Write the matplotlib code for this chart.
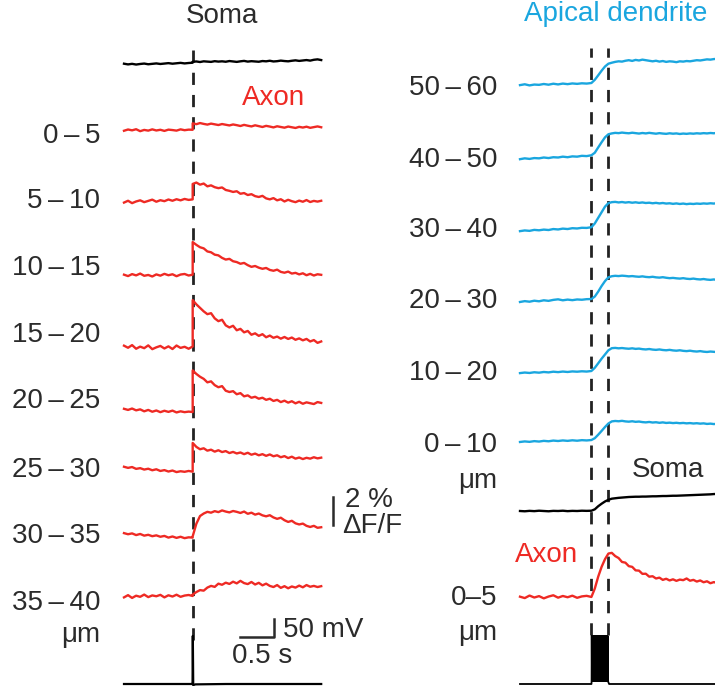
import numpy as np
import matplotlib
matplotlib.use("Agg")
import matplotlib.pyplot as plt

plt.rcParams['font.family'] = ['Liberation Sans', 'DejaVu Sans']

RED = '#ee2a24'
BLUE = '#1aa6df'
INK = '#2b2b2b'

# ---------------- single action potential: soma and axon segments ----------------
# time base (s): pre-stimulus and post-stimulus samples, stimulus at 1.01 s
T_STIM_L = 1.01
t_left = np.concatenate([np.linspace(0.0, T_STIM_L, 18), np.linspace(T_STIM_L, 2.9, 36)])

soma_left = [0.02, -0.03, 0.01, -0.04, 0.00, 0.03, -0.02, 0.01, 0.04, 0.00, 0.03, 0.06, 0.02, 0.05, 0.08, 0.04, 0.07, 0.09,
             0.16, 0.18, 0.14, 0.19, 0.17, 0.15, 0.20, 0.17, 0.19, 0.16, 0.21, 0.18, 0.15, 0.19, 0.22, 0.17, 0.20, 0.18,
             0.16, 0.21, 0.19, 0.23, 0.18, 0.20, 0.24, 0.21, 0.19, 0.23, 0.26, 0.22, 0.25, 0.28, 0.24, 0.30, 0.33, 0.28]

axon_labels = ['0\u2009\u2013\u20095', '5\u2009\u2013\u200910', '10\u2009\u2013\u200915', '15\u2009\u2013\u200920',
               '20\u2009\u2013\u200925', '25\u2009\u2013\u200930', '30\u2009\u2013\u200935', '35\u2009\u2013\u200940']

axon_0_5 = [-0.05, 0.04, -0.02, 0.06, -0.08, 0.01, -0.04, 0.05, -0.03, 0.02, -0.06, 0.03, 0.00, -0.04, 0.05, -0.01, 0.03, 0.02,
            0.48, 0.42, 0.50, 0.44, 0.39, 0.46, 0.41, 0.36, 0.43, 0.38, 0.33, 0.40, 0.35, 0.29, 0.37, 0.31, 0.26, 0.34,
            0.28, 0.22, 0.30, 0.25, 0.19, 0.27, 0.22, 0.17, 0.25, 0.20, 0.15, 0.23, 0.18, 0.24, 0.16, 0.21, 0.26, 0.20]
axon_5_10 = [-0.18, -0.05, -0.22, -0.10, -0.02, -0.15, -0.06, 0.03, -0.12, -0.01, -0.08, 0.04, -0.05, 0.06, -0.02, 0.08, 0.01, 0.05,
             1.15, 1.25, 1.10, 1.18, 0.98, 1.05, 0.92, 0.85, 0.90, 0.72, 0.66, 0.58, 0.63, 0.45, 0.50, 0.36, 0.42, 0.28,
             0.22, 0.30, 0.12, 0.05, 0.14, -0.02, 0.06, -0.10, 0.02, -0.08, -0.15, -0.04, -0.12, 0.00, -0.14, -0.06, -0.11, -0.05]
axon_10_15 = [0.02, -0.08, 0.06, -0.03, 0.10, -0.06, 0.00, -0.11, 0.04, -0.05, 0.08, -0.02, 0.05, -0.09, 0.03, 0.07, -0.04, 0.02,
              2.35, 2.15, 1.98, 1.90, 1.68, 1.62, 1.45, 1.40, 1.22, 1.10, 1.15, 0.98, 0.92, 0.80, 0.86, 0.70, 0.58, 0.64,
              0.52, 0.44, 0.50, 0.36, 0.30, 0.38, 0.22, 0.16, 0.24, 0.10, 0.15, 0.04, 0.12, -0.02, 0.08, -0.04, 0.05, 0.01]
axon_15_20 = [0.10, -0.05, 0.14, -0.12, 0.03, -0.08, 0.12, -0.15, -0.02, 0.08, -0.10, 0.05, -0.14, 0.11, -0.06, 0.02, -0.12, 0.04,
              3.35, 3.05, 2.80, 2.55, 2.35, 2.42, 2.05, 1.85, 1.95, 1.55, 1.40, 1.52, 1.20, 1.30, 1.05, 1.15, 0.88, 0.98,
              0.80, 0.92, 0.70, 0.82, 0.66, 0.75, 0.60, 0.72, 0.58, 0.68, 0.52, 0.62, 0.48, 0.58, 0.40, 0.50, 0.30, 0.40]
axon_20_25 = [0.16, 0.08, 0.18, 0.05, 0.12, -0.02, 0.08, -0.05, 0.04, -0.08, 0.02, -0.06, 0.03, -0.10, -0.02, -0.08, -0.04, -0.07,
              2.90, 2.65, 2.45, 2.30, 2.05, 2.12, 1.85, 1.70, 1.78, 1.45, 1.36, 1.42, 1.20, 1.28, 1.05, 1.12, 0.95, 1.02,
              0.88, 0.95, 0.80, 0.88, 0.72, 0.80, 0.64, 0.74, 0.60, 0.70, 0.55, 0.66, 0.52, 0.62, 0.56, 0.50, 0.64, 0.58]
axon_25_30 = [0.30, 0.22, 0.28, 0.15, 0.20, 0.10, 0.16, 0.05, 0.12, 0.00, 0.06, -0.04, 0.03, -0.08, -0.02, -0.06, 0.00, -0.05,
              2.00, 1.72, 1.55, 1.62, 1.45, 1.52, 1.38, 1.48, 1.35, 1.42, 1.28, 1.36, 1.25, 1.32, 1.20, 1.30, 1.16, 1.24,
              1.12, 1.20, 1.08, 1.18, 1.05, 1.12, 0.98, 1.06, 0.92, 1.02, 0.88, 0.96, 0.85, 0.94, 0.88, 0.98, 0.90, 0.95]
axon_30_35 = [0.28, 0.20, 0.26, 0.14, 0.22, 0.10, 0.16, 0.06, 0.12, 0.02, 0.08, -0.04, 0.04, -0.06, 0.02, -0.08, -0.02, -0.04,
              0.05, 0.95, 1.50, 1.68, 1.80, 1.74, 1.85, 1.78, 1.90, 1.82, 1.76, 1.86, 1.80, 1.72, 1.82, 1.66, 1.74, 1.60,
              1.68, 1.55, 1.48, 1.56, 1.40, 1.30, 1.38, 1.20, 1.08, 1.16, 0.98, 0.90, 0.96, 0.80, 0.72, 0.80, 0.66, 0.70]
axon_35_40 = [-0.10, 0.06, -0.14, 0.02, -0.06, 0.10, -0.08, 0.04, -0.02, 0.08, -0.10, 0.05, -0.04, 0.09, -0.06, 0.03, 0.07, 0.00,
              0.10, 0.28, 0.42, 0.38, 0.60, 0.72, 0.65, 0.88, 0.80, 0.95, 0.86, 1.02, 0.90, 1.08, 0.92, 0.85, 1.00, 0.82,
              0.94, 0.76, 0.88, 0.72, 0.64, 0.78, 0.58, 0.70, 0.55, 0.68, 0.60, 0.74, 0.62, 0.78, 0.66, 0.72, 0.64, 0.70]
axon_traces = [axon_0_5, axon_5_10, axon_10_15, axon_15_20, axon_20_25, axon_25_30, axon_30_35, axon_35_40]

# somatic membrane potential (mV) with one action potential
t_vm_left = [0.0, 0.4, 0.8, 1.0, 1.008, 1.012, 1.018, 1.05, 1.5, 2.0, 2.5, 2.9]
vm_left = [-70, -70, -70, -70, -70, 60, -73, -71, -70, -70, -70, -70]

# ---------------- burst of action potentials: soma, apical dendrite, axon ----------------
T_STIM_R = 1.05
T_END_R = 1.30
t_right = np.concatenate([np.linspace(0.0, T_STIM_R, 16), np.linspace(1.10, T_END_R, 5), np.linspace(1.35, 2.90, 32)])

dend_labels = ['50\u2009\u2013\u200960', '40\u2009\u2013\u200950', '30\u2009\u2013\u200940',
               '20\u2009\u2013\u200930', '10\u2009\u2013\u200920', '0\u2009\u2013\u200910']
dend_50_60 = [-0.08, -0.02, -0.10, -0.04, -0.06, 0.00, -0.05, 0.02, -0.03, 0.03, -0.01, 0.04, 0.01, 0.05, 0.03, 0.07,
              0.30, 0.62, 0.95, 1.25, 1.45,
              1.52, 1.58, 1.62, 1.60, 1.66, 1.70, 1.65, 1.72, 1.68, 1.74, 1.70, 1.66, 1.62, 1.66, 1.60, 1.64,
              1.58, 1.62, 1.60, 1.56, 1.62, 1.60, 1.64, 1.62, 1.66, 1.70, 1.68, 1.72, 1.76, 1.74, 1.78, 1.80]
dend_40_50 = [-0.16, -0.10, -0.14, -0.08, -0.10, -0.04, -0.08, -0.02, -0.04, 0.02, -0.02, 0.04, 0.02, 0.08, 0.06, 0.12,
              0.30, 0.68, 1.05, 1.40, 1.62,
              1.68, 1.72, 1.70, 1.74, 1.71, 1.69, 1.73, 1.70, 1.67, 1.71, 1.68, 1.72, 1.69, 1.66, 1.70, 1.67,
              1.65, 1.69, 1.66, 1.68, 1.64, 1.67, 1.65, 1.68, 1.66, 1.69, 1.67, 1.70, 1.68, 1.71, 1.69, 1.72]
dend_30_40 = [-0.15, -0.10, -0.13, -0.06, -0.09, -0.04, -0.07, 0.00, -0.03, 0.03, 0.00, 0.06, 0.04, 0.09, 0.08, 0.13,
              0.40, 0.80, 1.20, 1.60, 1.85,
              1.92, 1.94, 1.90, 1.93, 1.89, 1.92, 1.88, 1.91, 1.87, 1.90, 1.86, 1.88, 1.84, 1.87, 1.83, 1.86,
              1.82, 1.84, 1.80, 1.83, 1.79, 1.82, 1.78, 1.81, 1.79, 1.82, 1.80, 1.83, 1.81, 1.84, 1.82, 1.85]
dend_20_30 = [-0.14, -0.08, -0.12, -0.05, -0.09, -0.02, -0.06, 0.01, 0.05, -0.02, 0.03, -0.01, 0.04, 0.02, 0.06, 0.07,
              0.25, 0.60, 1.00, 1.35, 1.62,
              1.70, 1.73, 1.71, 1.74, 1.72, 1.69, 1.71, 1.68, 1.66, 1.69, 1.65, 1.63, 1.66, 1.62, 1.60, 1.63,
              1.59, 1.56, 1.58, 1.55, 1.53, 1.56, 1.52, 1.50, 1.53, 1.49, 1.47, 1.50, 1.46, 1.44, 1.47, 1.43]
dend_10_20 = [-0.08, -0.04, -0.07, -0.02, -0.05, 0.00, -0.03, 0.02, -0.01, 0.03, 0.00, 0.04, 0.02, 0.05, 0.03, 0.07,
              0.30, 0.62, 0.95, 1.25, 1.55,
              1.70, 1.72, 1.69, 1.71, 1.68, 1.66, 1.69, 1.65, 1.67, 1.63, 1.61, 1.64, 1.60, 1.58, 1.61, 1.57,
              1.55, 1.58, 1.54, 1.52, 1.55, 1.51, 1.49, 1.52, 1.48, 1.46, 1.49, 1.45, 1.43, 1.46, 1.44, 1.42]
dend_0_10 = [-0.07, -0.03, -0.06, -0.01, -0.04, 0.01, -0.02, 0.03, 0.00, 0.04, 0.01, 0.05, 0.02, 0.06, 0.04, 0.07,
             0.20, 0.45, 0.72, 1.00, 1.25,
             1.40, 1.43, 1.41, 1.44, 1.40, 1.38, 1.41, 1.37, 1.39, 1.35, 1.33, 1.36, 1.32, 1.34, 1.30, 1.33,
             1.29, 1.31, 1.28, 1.30, 1.27, 1.29, 1.26, 1.28, 1.25, 1.27, 1.24, 1.26, 1.22, 1.24, 1.21, 1.23]
dend_traces = [dend_50_60, dend_40_50, dend_30_40, dend_20_30, dend_10_20, dend_0_10]

soma_right = [0.00, -0.02, 0.01, -0.01, 0.02, 0.00, -0.02, 0.01, 0.00, 0.02, -0.01, 0.01, 0.00, 0.02, 0.01, 0.02,
              0.12, 0.34, 0.52, 0.68, 0.80,
              0.88, 0.91, 0.94, 0.96, 0.98, 1.00, 1.01, 1.02, 1.02, 1.03, 1.03, 1.04, 1.05, 1.05, 1.06, 1.07,
              1.07, 1.08, 1.09, 1.09, 1.10, 1.11, 1.12, 1.13, 1.14, 1.15, 1.16, 1.17, 1.18, 1.19, 1.21, 1.22]
axon_right = [0.02, -0.08, 0.10, -0.04, 0.06, -0.10, 0.03, 0.12, -0.05, 0.07, -0.02, 0.09, -0.06, 0.04, 0.08, 0.00,
              0.60, 1.45, 2.15, 2.70, 3.10,
              3.15, 2.92, 2.78, 2.50, 2.45, 2.20, 2.15, 1.90, 1.88, 1.65, 1.66, 1.45, 1.48, 1.32, 1.38, 1.22,
              1.30, 1.18, 1.26, 1.15, 1.24, 1.20, 1.32, 1.16, 1.22, 1.10, 1.18, 1.05, 1.12, 0.98, 1.06, 1.00]

# spike times of the somatic burst (s) and membrane potential levels (mV)
burst_spikes = [1.055, 1.068, 1.081, 1.094, 1.107, 1.120, 1.133, 1.146, 1.159, 1.172,
                1.185, 1.198, 1.211, 1.224, 1.237, 1.250, 1.263, 1.276, 1.289]
VM_REST = -70
VM_PEAK = 60
VM_TROUGH = -62

# ---------------- layout ----------------
W, H = 715, 686
PX_PER_PCT = 14.0          # vertical scale: 1 % dF/F
PX_PER_S = 68.0            # horizontal scale: 1 s
MV_TO_PCT = (18.5 / PX_PER_PCT) / 50.0
Y_TOP = H / PX_PER_PCT

left_offsets = [39.71, 34.71, 29.36, 24.21, 19.64, 15.36, 10.64, 6.43]
left_soma_offset = 44.43
right_offsets = [43.0, 37.79, 32.64, 27.57, 22.43, 17.5]
right_soma_offset = 12.5
right_axon_offset = 6.36
VM_ZERO = 0.143 + 70 * MV_TO_PCT   # 0 mV level, putting rest at the bottom edge

fig = plt.figure(figsize=(W / 100, H / 100), dpi=100)

def px(x, y):
    return x / W, 1 - y / H

LEFT_W = 360
axL = fig.add_axes([0, 0, LEFT_W / W, 1])
axR = fig.add_axes([LEFT_W / W, 0, (W - LEFT_W) / W, 1])
axL.set_xlim(-124 / PX_PER_S, (LEFT_W - 124) / PX_PER_S)
axR.set_xlim(-(520 - LEFT_W) / PX_PER_S, (W - 520) / PX_PER_S)
for ax in (axL, axR):
    ax.set_ylim(0, Y_TOP)
    ax.axis('off')

LW = 1.7
DASH = dict(color='#222222', lw=2.0, dashes=(4.4, 3.6), zorder=1)

# left panel: dashed stimulus marker
axL.plot([T_STIM_L, T_STIM_L], [(H - 640) / PX_PER_PCT, (H - 48) / PX_PER_PCT], **DASH)

axL.plot(t_left, np.array(soma_left) + left_soma_offset, color='black', lw=LW, zorder=3)
for vals, off in zip(axon_traces, left_offsets):
    axL.plot(t_left, np.array(vals) + off, color=RED, lw=LW, zorder=3)
axL.plot(t_vm_left, np.array(vm_left) * MV_TO_PCT + VM_ZERO, color='black', lw=1.6, zorder=3)

# right panel: burst window markers
for tx in (T_STIM_R, T_END_R):
    axR.plot([tx, tx], [(H - 635) / PX_PER_PCT, (H - 48) / PX_PER_PCT], **DASH)

for vals, off in zip(dend_traces, right_offsets):
    axR.plot(t_right, np.array(vals) + off, color=BLUE, lw=LW, zorder=3)
axR.plot(t_right, np.array(soma_right) + right_soma_offset, color='black', lw=LW, zorder=3)
axR.plot(t_right, np.array(axon_right) + right_axon_offset, color=RED, lw=LW, zorder=3)

# burst membrane potential
tv, vv = [0.0, burst_spikes[0] - 0.004], [VM_REST, VM_REST]
for ts in burst_spikes:
    tv += [ts - 0.002, ts, ts + 0.004]
    vv += [VM_TROUGH, VM_PEAK, VM_TROUGH]
tv += [T_END_R + 0.01, 2.9]
vv += [VM_REST, VM_REST]
axR.plot(tv, np.array(vv) * MV_TO_PCT + VM_ZERO, color='black', lw=1.3, zorder=3)

# scale bars
bar_x = (333 - 124) / PX_PER_S
bar_y0 = (H - 525) / PX_PER_PCT
axL.plot([bar_x, bar_x], [bar_y0, bar_y0 + 2.0], color=INK, lw=1.8)
sb_x = (274 - 124) / PX_PER_S
sb_y = (H - 637) / PX_PER_PCT
axL.plot([sb_x - 0.5, sb_x, sb_x], [sb_y, sb_y, sb_y + 50 * MV_TO_PCT], color=INK, lw=1.8)

# text
FS = 20
def label(x, y, s, ha='left', color=INK, size=FS):
    fig.text(*px(x, y), s, ha=ha, va='baseline', color=color, fontsize=size)

label(186, 23, 'Soma')
label(242, 105, 'Axon', color=RED)
left_baselines = [143, 208, 275, 342, 408, 477, 543, 610]
for s, yb in zip(axon_labels, left_baselines):
    label(100, yb, s, ha='right')
label(100, 642, '\u03bcm', ha='right')
label(345, 507, '2 %')
label(342, 533, '\u0394F/F')
label(283, 637, '50 mV')
label(232, 663, '0.5 s')

label(524, 21, 'Apical dendrite', color=BLUE)
right_baselines = [95, 167, 237, 308, 380, 452]
for s, yb in zip(dend_labels, right_baselines):
    label(497, yb, s, ha='right')
label(497, 488, '\u03bcm', ha='right')
label(632, 477, 'Soma')
label(515, 562, 'Axon', color=RED)
label(497, 605, '0\u20135', ha='right')
label(497, 640, '\u03bcm', ha='right')

fig.savefig('out.png', dpi=100)
